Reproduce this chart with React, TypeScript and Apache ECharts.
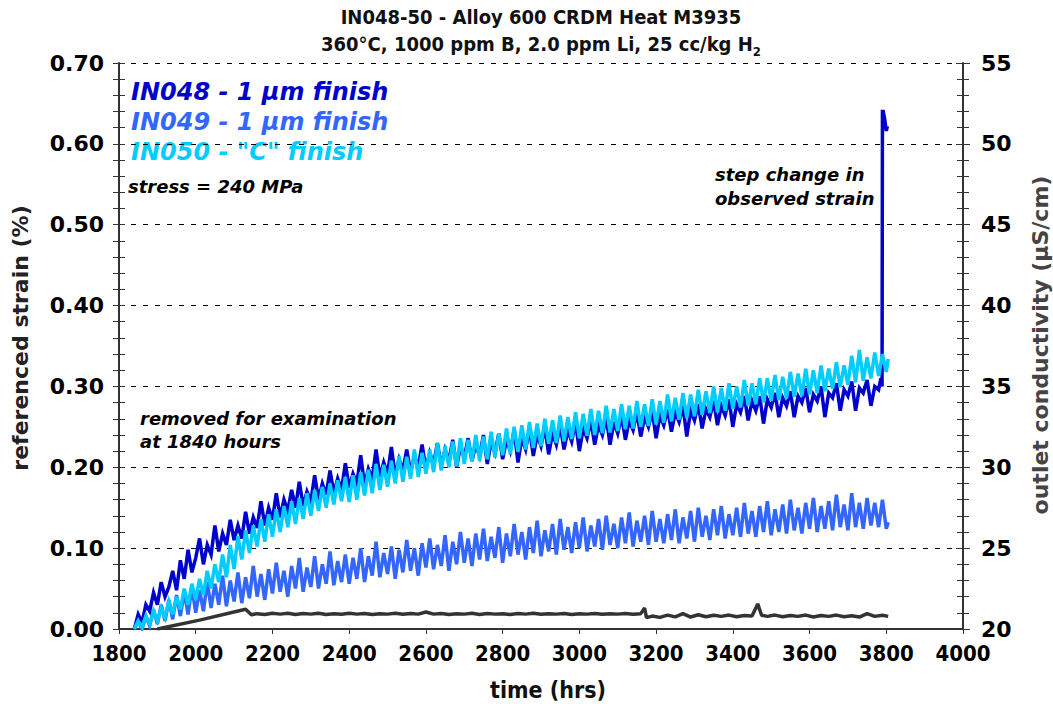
import React, { useEffect, useRef } from "react";
import * as echarts from "echarts";

// Time grid (hrs) shared by the strain traces, 10 hr steps
const hours = [
  1840, 1850, 1860, 1870, 1880, 1890, 1900, 1910, 1920, 1930,
  1940, 1950, 1960, 1970, 1980, 1990, 2000, 2010, 2020, 2030,
  2040, 2050, 2060, 2070, 2080, 2090, 2100, 2110, 2120, 2130,
  2140, 2150, 2160, 2170, 2180, 2190, 2200, 2210, 2220, 2230,
  2240, 2250, 2260, 2270, 2280, 2290, 2300, 2310, 2320, 2330,
  2340, 2350, 2360, 2370, 2380, 2390, 2400, 2410, 2420, 2430,
  2440, 2450, 2460, 2470, 2480, 2490, 2500, 2510, 2520, 2530,
  2540, 2550, 2560, 2570, 2580, 2590, 2600, 2610, 2620, 2630,
  2640, 2650, 2660, 2670, 2680, 2690, 2700, 2710, 2720, 2730,
  2740, 2750, 2760, 2770, 2780, 2790, 2800, 2810, 2820, 2830,
  2840, 2850, 2860, 2870, 2880, 2890, 2900, 2910, 2920, 2930,
  2940, 2950, 2960, 2970, 2980, 2990, 3000, 3010, 3020, 3030,
  3040, 3050, 3060, 3070, 3080, 3090, 3100, 3110, 3120, 3130,
  3140, 3150, 3160, 3170, 3180, 3190, 3200, 3210, 3220, 3230,
  3240, 3250, 3260, 3270, 3280, 3290, 3300, 3310, 3320, 3330,
  3340, 3350, 3360, 3370, 3380, 3390, 3400, 3410, 3420, 3430,
  3440, 3450, 3460, 3470, 3480, 3490, 3500, 3510, 3520, 3530,
  3540, 3550, 3560, 3570, 3580, 3590, 3600, 3610, 3620, 3630,
  3640, 3650, 3660, 3670, 3680, 3690, 3700, 3710, 3720, 3730,
  3740, 3750, 3760, 3770, 3780, 3790, 3800, 3805,
];

// IN048 - 1 µm finish, referenced strain (%) through 3780 hrs
const in048 = [
  0.0, 0.018, 0.008, 0.03, 0.022, 0.045, 0.03, 0.058, 0.04, 0.052,
  0.072, 0.048, 0.085, 0.062, 0.098, 0.07, 0.088, 0.112, 0.08, 0.104,
  0.092, 0.128, 0.096, 0.118, 0.104, 0.135, 0.11, 0.128, 0.112, 0.145,
  0.118, 0.138, 0.125, 0.158, 0.128, 0.15, 0.135, 0.168, 0.138, 0.16,
  0.146, 0.172, 0.15, 0.182, 0.152, 0.17, 0.158, 0.19, 0.16, 0.18,
  0.166, 0.196, 0.168, 0.186, 0.172, 0.205, 0.175, 0.192, 0.18, 0.215,
  0.178, 0.198, 0.186, 0.222, 0.188, 0.206, 0.192, 0.225, 0.19, 0.21,
  0.196, 0.222, 0.194, 0.214, 0.2, 0.228, 0.198, 0.218, 0.204, 0.23,
  0.202, 0.222, 0.208, 0.234, 0.2, 0.226, 0.212, 0.236, 0.208, 0.228,
  0.214, 0.24, 0.204, 0.232, 0.218, 0.242, 0.21, 0.234, 0.22, 0.246,
  0.206, 0.236, 0.222, 0.248, 0.214, 0.24, 0.226, 0.25, 0.216, 0.242,
  0.228, 0.252, 0.222, 0.246, 0.232, 0.256, 0.22, 0.248, 0.236, 0.258,
  0.228, 0.252, 0.24, 0.262, 0.228, 0.256, 0.242, 0.264, 0.234, 0.258,
  0.246, 0.268, 0.238, 0.262, 0.25, 0.27, 0.236, 0.264, 0.252, 0.272,
  0.244, 0.268, 0.256, 0.276, 0.238, 0.27, 0.258, 0.278, 0.248, 0.272,
  0.262, 0.282, 0.252, 0.276, 0.264, 0.284, 0.25, 0.278, 0.268, 0.288,
  0.258, 0.282, 0.27, 0.288, 0.254, 0.284, 0.274, 0.292, 0.262, 0.286,
  0.276, 0.294, 0.262, 0.288, 0.28, 0.298, 0.268, 0.29, 0.282, 0.3,
  0.262, 0.292, 0.286, 0.304, 0.27, 0.296, 0.288, 0.306, 0.27, 0.298,
  0.292, 0.308, 0.276, 0.3, 0.296,
];
// IN048 step change in observed strain at the end of the run
const in048StepHours = [3786, 3789, 3790, 3792, 3796, 3800, 3803];
const in048StepStrain = [0.31, 0.3, 0.64, 0.64, 0.63, 0.616, 0.622];

// IN049 - 1 µm finish
const in049 = [
  0.0, 0.01, 0.0, 0.016, 0.004, 0.024, 0.006, 0.03, 0.01, 0.036,
  0.012, 0.042, 0.016, 0.046, 0.018, 0.052, 0.02, 0.048, 0.022, 0.058,
  0.026, 0.056, 0.03, 0.066, 0.028, 0.06, 0.034, 0.07, 0.032, 0.064,
  0.038, 0.078, 0.04, 0.068, 0.036, 0.074, 0.044, 0.082, 0.046, 0.072,
  0.04, 0.078, 0.05, 0.088, 0.046, 0.076, 0.052, 0.09, 0.05, 0.08,
  0.056, 0.096, 0.054, 0.084, 0.058, 0.092, 0.056, 0.088, 0.062, 0.1,
  0.058, 0.09, 0.066, 0.108, 0.064, 0.094, 0.068, 0.102, 0.062, 0.098,
  0.07, 0.11, 0.072, 0.1, 0.066, 0.106, 0.076, 0.112, 0.074, 0.104,
  0.078, 0.116, 0.072, 0.108, 0.08, 0.12, 0.082, 0.112, 0.078, 0.118,
  0.086, 0.124, 0.084, 0.114, 0.088, 0.126, 0.082, 0.118, 0.09, 0.13,
  0.092, 0.12, 0.086, 0.126, 0.094, 0.134, 0.09, 0.122, 0.096, 0.13,
  0.092, 0.136, 0.098, 0.126, 0.094, 0.132, 0.1, 0.138, 0.096, 0.128,
  0.102, 0.136, 0.098, 0.14, 0.104, 0.13, 0.1, 0.138, 0.106, 0.144,
  0.102, 0.134, 0.108, 0.14, 0.104, 0.146, 0.108, 0.136, 0.106, 0.142,
  0.11, 0.148, 0.106, 0.138, 0.112, 0.146, 0.108, 0.15, 0.114, 0.14,
  0.11, 0.148, 0.116, 0.152, 0.112, 0.142, 0.116, 0.15, 0.114, 0.156,
  0.118, 0.146, 0.114, 0.152, 0.12, 0.158, 0.116, 0.148, 0.12, 0.154,
  0.118, 0.16, 0.122, 0.15, 0.118, 0.156, 0.124, 0.162, 0.12, 0.152,
  0.124, 0.158, 0.122, 0.166, 0.126, 0.154, 0.122, 0.168, 0.126, 0.156,
  0.124, 0.162, 0.128, 0.156, 0.126, 0.16, 0.124, 0.132,
];

// IN050 - "C" finish
const in050 = [
  0.0, 0.01, 0.002, 0.016, 0.006, 0.022, 0.01, 0.026, 0.014, 0.034,
  0.018, 0.04, 0.024, 0.05, 0.03, 0.056, 0.036, 0.062, 0.042, 0.072,
  0.05, 0.08, 0.058, 0.092, 0.064, 0.104, 0.074, 0.115, 0.086, 0.122,
  0.094, 0.128, 0.102, 0.136, 0.108, 0.142, 0.114, 0.148, 0.12, 0.152,
  0.126, 0.158, 0.13, 0.162, 0.136, 0.168, 0.14, 0.172, 0.146, 0.176,
  0.15, 0.18, 0.154, 0.184, 0.158, 0.188, 0.157, 0.19, 0.16, 0.194,
  0.165, 0.197, 0.168, 0.204, 0.172, 0.203, 0.176, 0.208, 0.18, 0.214,
  0.182, 0.213, 0.186, 0.222, 0.188, 0.218, 0.192, 0.222, 0.194, 0.23,
  0.196, 0.226, 0.2, 0.232, 0.201, 0.236, 0.204, 0.234, 0.207, 0.24,
  0.208, 0.238, 0.21, 0.244, 0.212, 0.242, 0.215, 0.248, 0.216, 0.25,
  0.219, 0.252, 0.222, 0.256, 0.224, 0.254, 0.226, 0.26, 0.229, 0.258,
  0.23, 0.264, 0.232, 0.262, 0.235, 0.268, 0.236, 0.266, 0.239, 0.272,
  0.24, 0.27, 0.242, 0.276, 0.243, 0.272, 0.245, 0.278, 0.247, 0.276,
  0.248, 0.282, 0.25, 0.278, 0.251, 0.284, 0.253, 0.282, 0.255, 0.29,
  0.257, 0.286, 0.259, 0.292, 0.261, 0.29, 0.263, 0.296, 0.265, 0.294,
  0.267, 0.3, 0.268, 0.298, 0.27, 0.304, 0.272, 0.3, 0.274, 0.308,
  0.276, 0.304, 0.278, 0.31, 0.28, 0.31, 0.282, 0.314, 0.283, 0.312,
  0.285, 0.318, 0.287, 0.316, 0.288, 0.322, 0.29, 0.32, 0.292, 0.326,
  0.294, 0.322, 0.297, 0.33, 0.299, 0.326, 0.302, 0.338, 0.305, 0.345,
  0.307, 0.336, 0.31, 0.342, 0.313, 0.34, 0.318, 0.334,
];

// Outlet conductivity (µS/cm), right axis
const condHours = [
  1900, 2010, 2130, 2145, 2160, 2180, 2200, 2220, 2240, 2260, 2280, 2300, 2320, 2340, 2360, 2380, 2400, 2420, 2440, 2460,
  2480, 2500, 2520, 2540, 2560, 2580, 2600, 2620, 2640, 2660, 2680, 2700, 2720, 2740, 2760, 2780, 2800, 2820, 2840, 2860,
  2880, 2900, 2920, 2940, 2960, 2980, 3000, 3020, 3040, 3060, 3080, 3100, 3120, 3140, 3160, 3170, 3175, 3190, 3210, 3230,
  3250, 3270, 3290, 3310, 3330, 3350, 3370, 3390, 3410, 3430, 3450, 3465, 3475, 3490, 3510, 3530, 3550, 3570, 3590, 3610,
  3630, 3650, 3670, 3690, 3710, 3730, 3750, 3770, 3790, 3805,
];
const conductivity = [
  20.0, 20.55, 21.22, 20.88, 20.95, 20.9, 20.98, 20.92, 20.97, 20.9, 20.96, 20.92, 20.98, 20.9, 20.95, 20.91, 20.97, 20.92, 20.96, 20.9,
  20.95, 20.92, 20.98, 20.91, 20.96, 20.92, 21.05, 20.92, 20.96, 20.9, 20.95, 20.92, 20.97, 20.9, 20.96, 20.92, 20.95, 20.9, 20.96, 20.92,
  20.97, 20.91, 20.95, 20.92, 20.96, 20.9, 20.95, 20.92, 20.96, 20.91, 20.95, 20.92, 20.96, 20.91, 20.95, 21.3, 20.7, 20.8, 20.72, 20.86,
  20.75, 20.95, 20.74, 20.88, 20.76, 20.85, 20.78, 20.86, 20.76, 20.84, 20.8, 21.55, 20.85, 20.78, 20.86, 20.76, 20.84, 20.78, 20.86, 20.74,
  20.84, 20.78, 20.86, 20.76, 20.82, 20.74, 20.95, 20.78, 20.85, 20.78,
];

const C_IN048 = "#0000CC";
const C_IN049 = "#3366FF";
const C_IN050 = "#00CCFF";
const C_COND = "#333333";

const FONT = '"DejaVu Sans", Verdana, sans-serif';
const FONT_NARROW = '"DejaVu Sans Condensed", "DejaVu Sans", sans-serif';

function pairs(xs: number[], ys: number[]) {
  return ys.map((y, i) => [xs[i], y]);
}

export default function App() {
  const ref = useRef<HTMLDivElement>(null);

  useEffect(() => {
    if (!ref.current) return;
    const chart = echarts.init(ref.current, undefined, { renderer: "svg" });

    const in048Data = pairs(hours, in048).concat(pairs(in048StepHours, in048StepStrain));

    const leftAxisBase = {
      type: "value" as const,
      position: "left" as const,
      min: 0,
      max: 0.7,
      interval: 0.1,
    };
    const rightAxisBase = {
      type: "value" as const,
      position: "right" as const,
      min: 20,
      max: 55,
      interval: 5,
    };

    const note = (x: number, y: number, text: string, size: number, fill: string) => ({
      type: "text",
      x,
      y,
      style: {
        text,
        font: `italic bold ${size}px ${FONT}`,
        fill,
        verticalAlign: "middle",
      },
    });

    const strainLine = (name: string, data: number[][], color: string, z: number) => ({
      name,
      type: "line",
      yAxisIndex: 0,
      data,
      showSymbol: false,
      symbol: "none",
      lineStyle: { color, width: 3.5, join: "miter" },
      z,
    });

    chart.setOption({
      animation: false,
      backgroundColor: "#ffffff",
      grid: { left: 119, right: 90, top: 63, bottom: 75, containLabel: false },
      xAxis: {
        type: "value",
        min: 1800,
        max: 4000,
        interval: 200,
        axisLine: { show: true, onZero: false, lineStyle: { color: "#333", width: 2 } },
        axisTick: { show: true, length: 5, lineStyle: { color: "#333", width: 1 } },
        axisLabel: {
          margin: 13,
          formatter: (v: number) => String(v),
          fontFamily: FONT_NARROW,
          fontWeight: "bold",
          fontSize: 22,
          color: "#000",
        },
        splitLine: { show: false },
      },
      yAxis: [
        {
          ...leftAxisBase,
          axisLine: { show: true, lineStyle: { color: "#333", width: 2 } },
          axisTick: { show: true, length: 6, lineStyle: { color: "#333" } },
          minorTick: { show: true, splitNumber: 5, length: 6, lineStyle: { color: "#333" } },
          axisLabel: {
            margin: 15,
            formatter: (v: number) => v.toFixed(2),
            fontFamily: FONT,
            fontWeight: "bold",
            fontSize: 22,
            color: "#000",
          },
          splitLine: { show: true, lineStyle: { color: "#000", width: 1, type: [5, 7] } },
        },
        {
          ...leftAxisBase,
          axisLine: { show: false },
          axisTick: { show: true, inside: true, length: 6, lineStyle: { color: "#333" } },
          minorTick: { show: true, splitNumber: 5, length: 6, lineStyle: { color: "#333" } },
          axisLabel: { show: false },
          splitLine: { show: false },
        },
        {
          ...rightAxisBase,
          axisLine: { show: true, lineStyle: { color: "#333", width: 2 } },
          axisTick: { show: true, length: 7, lineStyle: { color: "#333" } },
          minorTick: { show: true, splitNumber: 5, length: 6, lineStyle: { color: "#333" } },
          axisLabel: {
            margin: 18,
            fontFamily: FONT,
            fontWeight: "bold",
            fontSize: 22,
            color: "#000",
          },
          splitLine: { show: false },
        },
        {
          ...rightAxisBase,
          axisLine: { show: false },
          axisTick: { show: true, inside: true, length: 7, lineStyle: { color: "#333" } },
          minorTick: { show: true, splitNumber: 5, length: 6, lineStyle: { color: "#333" } },
          axisLabel: { show: false },
          splitLine: { show: false },
        },
      ],
      series: [
        strainLine("IN048 - 1 µm finish", in048Data, C_IN048, 3),
        strainLine("IN049 - 1 µm finish", pairs(hours, in049), C_IN049, 4),
        strainLine('IN050 - "C" finish', pairs(hours, in050), C_IN050, 5),
        {
          name: "outlet conductivity",
          type: "line",
          yAxisIndex: 2,
          data: pairs(condHours, conductivity),
          showSymbol: false,
          symbol: "none",
          lineStyle: { color: C_COND, width: 3.5 },
          z: 6,
        },
      ],
      graphic: [
        {
          type: "text",
          x: 541,
          y: 17,
          style: {
            text: "IN048-50 - Alloy 600 CRDM Heat M3935",
            font: `bold 20px ${FONT_NARROW}`,
            fill: "#111",
            align: "center",
            verticalAlign: "middle",
          },
        },
        {
          type: "text",
          x: 541,
          y: 44,
          style: {
            text: "{a|360°C, 1000 ppm B, 2.0 ppm Li, 25 cc/kg H}{s|2}",
            align: "center",
            verticalAlign: "middle",
            rich: {
              a: { font: `bold 20px ${FONT_NARROW}`, fill: "#111", lineHeight: 28 },
              s: { font: `bold 13px ${FONT_NARROW}`, fill: "#111", lineHeight: 13, verticalAlign: "bottom" },
            },
          },
        },
        {
          type: "text",
          x: 20,
          y: 338,
          rotation: Math.PI / 2,
          style: {
            text: "referenced strain (%)",
            font: `bold 22px ${FONT}`,
            fill: "#222",
            align: "center",
            verticalAlign: "middle",
          },
        },
        {
          type: "text",
          x: 1040,
          y: 345,
          rotation: Math.PI / 2,
          style: {
            text: "outlet conductivity (µS/cm)",
            font: `bold 22px ${FONT}`,
            fill: "#444",
            align: "center",
            verticalAlign: "middle",
          },
        },
        {
          type: "text",
          x: 548,
          y: 690,
          style: {
            text: "time (hrs)",
            font: `bold 23px ${FONT_NARROW}`,
            fill: "#111",
            align: "center",
            verticalAlign: "middle",
          },
        },
        note(131, 92, "IN048 - 1 µm finish", 24, C_IN048),
        note(131, 122, "IN049 - 1 µm finish", 24, C_IN049),
        note(131, 152, 'IN050 - "C" finish', 24, C_IN050),
        note(128, 186, "stress = 240 MPa", 18, "#000"),
        note(715, 174, "step change in", 18, "#000"),
        note(715, 198, "observed strain", 18, "#000"),
        note(140, 418, "removed for examination", 18, "#000"),
        note(140, 441, "at 1840 hours", 18, "#000"),
      ],
    });

    return () => chart.dispose();
  }, []);

  return (
    <div
      ref={ref}
      style={{ position: "absolute", left: 0, top: 0, width: 1053, height: 704 }}
    />
  );
}
